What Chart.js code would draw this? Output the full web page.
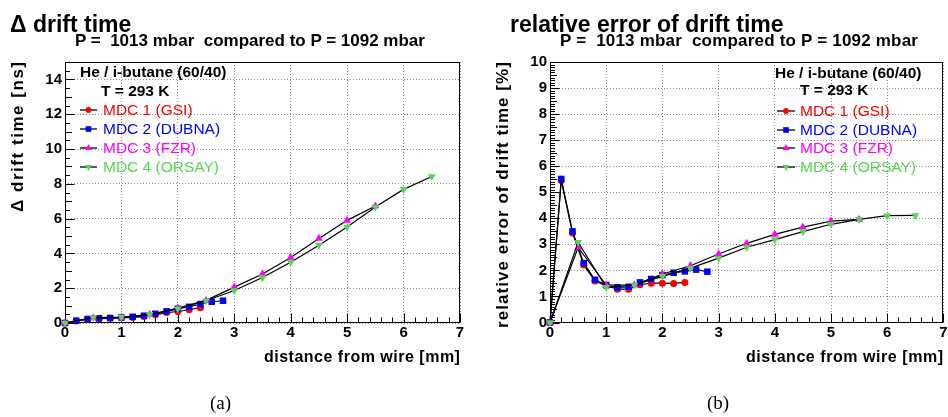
<!DOCTYPE html>
<html><head><meta charset="utf-8">
<script src="https://cdn.jsdelivr.net/npm/chart.js@4.4.1/dist/chart.umd.min.js"></script>
<style>
html,body{margin:0;padding:0;background:#fff;}
body{width:948px;height:417px;overflow:hidden;position:relative;font-family:"Liberation Sans",Arial,sans-serif;}
canvas{position:absolute;top:0;}
.t{position:absolute;white-space:pre;color:#000;line-height:1;font-weight:bold;}
.cap{position:absolute;white-space:pre;color:#000;line-height:1;font-family:"Liberation Serif","Times New Roman",serif;font-size:19px;}
</style></head><body>
<canvas id="c1" width="474" height="417" style="left:0"></canvas>
<canvas id="c2" width="474" height="417" style="left:474px"></canvas>
<div class="t" style="left:10px;top:12.5px;font-size:23px">Δ drift time</div>
<div class="t" style="left:510px;top:12.5px;font-size:23px">relative error of drift time</div>
<div class="t" style="left:75px;top:31.5px;font-size:17px">P =  1013 mbar  compared to P = 1092 mbar</div>
<div class="t" style="left:560px;top:31.5px;font-size:17px;letter-spacing:0.2px">P =  1013 mbar  compared to P = 1092 mbar</div>
<div class="cap" style="left:210px;top:393px">(a)</div>
<div class="cap" style="left:707px;top:393px">(b)</div>
<script>
// ---------- data ----------
const xFine = [0, 0.2, 0.4, 0.6, 0.8, 1.0, 1.2, 1.4, 1.6, 1.8, 2.0, 2.2, 2.4, 2.6, 2.8];
const xCoarse = [0, 0.5, 1.0, 1.5, 2.0, 2.5, 3.0, 3.5, 4.0, 4.5, 5.0, 5.5, 6.0, 6.5];
const seriesNames = ['MDC 1 (GSI)', 'MDC 2 (DUBNA)', 'MDC 3 (FZR)', 'MDC 4 (ORSAY)'];
// (a) delta drift time [ns]
const dtMdc1 = [0, 0.12, 0.21, 0.25, 0.27, 0.30, 0.32, 0.37, 0.47, 0.60, 0.66, 0.76, 0.88];
const dtMdc2 = [0, 0.13, 0.23, 0.27, 0.29, 0.32, 0.36, 0.42, 0.53, 0.67, 0.82, 0.93, 1.09, 1.22, 1.28];
const dtMdc3 = [0, 0.29, 0.32, 0.48, 0.86, 1.30, 2.06, 2.82, 3.77, 4.86, 5.90, 6.72];
const dtMdc4 = [0, 0.32, 0.34, 0.48, 0.82, 1.28, 1.87, 2.61, 3.49, 4.47, 5.52, 6.67, 7.68, 8.42];
// (b) relative error of drift time [%]
const reMdc1 = [0, 5.45, 3.44, 2.21, 1.59, 1.41, 1.28, 1.28, 1.45, 1.51, 1.51, 1.50, 1.54];
const reMdc2 = [0, 5.51, 3.50, 2.28, 1.64, 1.44, 1.35, 1.37, 1.54, 1.67, 1.82, 1.91, 1.96, 2.03, 1.95];
const reMdc3 = [0, 2.88, 1.44, 1.44, 1.86, 2.18, 2.63, 3.04, 3.38, 3.66, 3.89, 3.96];
const reMdc4 = [0, 3.08, 1.35, 1.44, 1.77, 2.09, 2.47, 2.89, 3.18, 3.49, 3.77, 3.96, 4.10, 4.11];
const xTicksA = [0, 1, 2, 3, 4, 5, 6, 7];
const yTicksA = [0, 2, 4, 6, 8, 10, 12, 14];
const yTicksB = [0, 1, 2, 3, 4, 5, 6, 7, 8, 9, 10];

// ---------- styles ----------
const FONT = '"Liberation Sans", Arial, sans-serif';
const colors = ['#ff0000', '#0000ff', '#ff00ff', '#59d454'];
const pStyles = ['circle', 'rect', 'triangle', 'triangle'];
const pRot = [0, 0, 0, 180];
const pRad = [3.5, 4.6, 4.6, 4.6];

function pts(xs, ys) { return ys.map((y, i) => ({ x: xs[i], y: y })); }

function makeDatasets(s1, s2, s3, s4) {
  const xs = [xFine, xFine, xCoarse, xCoarse];
  return [s1, s2, s3, s4].map((s, i) => ({
    label: seriesNames[i],
    data: pts(xs[i], s),
    showLine: true,
    clip: false,
    borderColor: '#000',
    borderWidth: 1.2,
    tension: 0,
    pointStyle: pStyles[i],
    pointRotation: pRot[i],
    pointRadius: pRad[i],
    pointHoverRadius: pRad[i],
    pointBackgroundColor: colors[i],
    pointBorderColor: colors[i],
    pointBorderWidth: 0,
    order: 4 - i
  }));
}

function spacedText(ctx, text, len) {
  ctx.letterSpacing = '0px';
  const w = ctx.measureText(text).width;
  const sp = Math.max(0, (len - w) / (text.length - 1));
  ctx.letterSpacing = sp.toFixed(2) + 'px';
  return sp;
}

const rootPlugin = {
  id: 'rootFrame',
  beforeDatasetsDraw(chart, args, o) {
    const ctx = chart.ctx, a = chart.chartArea, xs = chart.scales.x, ys = chart.scales.y;
    ctx.save();
    ctx.strokeStyle = '#000';
    ctx.lineWidth = 1;
    const L = Math.round(a.left) + 0.5, R = Math.round(a.right) - 0.5;
    const T = Math.round(a.top) + 0.5, B = Math.round(a.bottom) - 0.5;
    ctx.strokeRect(L, T, R - L, B - T);
    ctx.beginPath();
    for (let k = 0; k <= Math.round(o.xMax / o.xMinor); k++) {
      const v = k * o.xMinor;
      const px = Math.round(xs.getPixelForValue(v)) + 0.5;
      const maj = Math.abs(v / o.xMajor - Math.round(v / o.xMajor)) < 1e-6;
      const len = maj ? 9 : 5;
      ctx.moveTo(px, B); ctx.lineTo(px, B - len);
    }
    for (let k = 0; k <= Math.round(o.yMax / o.yMinor); k++) {
      const v = k * o.yMinor;
      const py = Math.round(ys.getPixelForValue(v)) + 0.5;
      const maj = Math.abs(v / o.yMajor - Math.round(v / o.yMajor)) < 1e-6;
      const med = Math.abs(v / o.yMed - Math.round(v / o.yMed)) < 1e-6;
      const len = maj ? 9 : (med ? 6.5 : 4.5);
      ctx.moveTo(L, py); ctx.lineTo(L + len, py);
    }
    ctx.stroke();
    ctx.restore();
  },
  afterDraw(chart, args, o) {
    const ctx = chart.ctx, g = o.legend, a = chart.chartArea;
    ctx.save();
    ctx.fillStyle = '#000';
    ctx.textBaseline = 'middle';
    ctx.textAlign = 'left';
    // x title (right end at plot right)
    ctx.font = 'bold 16px ' + FONT;
    spacedText(ctx, o.xTitle, o.xTitleLen);
    ctx.fillText(o.xTitle, Math.round(a.right) - o.xTitleLen, o.xTitleY);
    // y title (top end at plot top)
    ctx.font = 'bold 17px ' + FONT;
    spacedText(ctx, o.yTitle, o.yTitleLen);
    ctx.save();
    ctx.translate(o.yTitleX, Math.round(a.top) + o.yTitleLen);
    ctx.rotate(-Math.PI / 2);
    ctx.fillText(o.yTitle, 0, 0);
    ctx.restore();
    ctx.letterSpacing = '0px';
    // legend
    ctx.font = 'bold 15.5px ' + FONT;
    ctx.fillText('He / i-butane (60/40)', g.hx, g.hy);
    ctx.fillText('T = 293 K', g.tx, g.ty);
    chart.data.datasets.forEach((ds, i) => {
      const y = g.rows[i];
      ctx.strokeStyle = '#333';
      ctx.lineWidth = 1.6;
      ctx.beginPath(); ctx.moveTo(g.l0, y); ctx.lineTo(g.l1, y); ctx.stroke();
      ctx.fillStyle = colors[i];
      ctx.strokeStyle = colors[i];
      Chart.helpers.drawPoint(ctx, { pointStyle: pStyles[i], rotation: pRot[i], radius: pRad[i] - 0.6, borderWidth: 0 }, (g.l0 + g.l1) / 2, y);
      ctx.font = '15.5px ' + FONT;
      ctx.fillText(seriesNames[i], g.lx, y + 0.5);
    });
    ctx.restore();
  }
};

function makeChart(id, datasets, cfg) {
  return new Chart(document.getElementById(id), {
    type: 'scatter',
    data: { datasets: datasets },
    plugins: [rootPlugin],
    options: {
      responsive: false,
      animation: false,
      devicePixelRatio: 1,
      events: [],
      layout: { padding: cfg.pad },
      plugins: {
        legend: { display: false },
        tooltip: { enabled: false },
        rootFrame: cfg.frame
      },
      scales: {
        x: {
          type: 'linear', min: 0, max: 7,
          afterBuildTicks: s => { s.ticks = xTicksA.map(v => ({ value: v })); },
          afterFit: s => { s.height = 417 - cfg.bottom; s.paddingLeft = 0; s.paddingRight = 0; },
          ticks: { color: '#000', padding: 1, font: { family: FONT, size: 15, weight: 'bold' } },
          grid: { color: '#8a8a8a', lineWidth: 1, drawTicks: false },
          border: { display: false, dash: [1, 2] },
          title: { display: false }
        },
        y: {
          type: 'linear', min: 0, max: cfg.yMax,
          afterBuildTicks: s => { s.ticks = cfg.yTicks.map(v => ({ value: v })); },
          afterFit: s => { s.width = cfg.yWidth; },
          ticks: { color: '#000', padding: 3, font: { family: FONT, size: 15, weight: 'bold' } },
          grid: { color: '#8a8a8a', lineWidth: 1, drawTicks: false },
          border: { display: false, dash: [1, 2] },
          title: { display: false }
        }
      }
    }
  });
}

makeChart('c1', makeDatasets(dtMdc1, dtMdc2, dtMdc3, dtMdc4), {
  pad: { left: 0, right: 14, top: 62, bottom: 0 },
  bottom: 323, yMax: 15, yTicks: yTicksA, yWidth: 65,
  frame: {
    xMax: 7, xMinor: 0.2, xMajor: 1, yMax: 15, yMinor: 0.5, yMed: 1, yMajor: 2,
    xTitle: 'distance from wire [mm]', xTitleLen: 196, xTitleY: 358,
    yTitle: 'Δ drift time [ns]', yTitleLen: 150, yTitleX: 18.5,
    legend: { hx: 80, hy: 73, tx: 101, ty: 92, l0: 80, l1: 97, lx: 103, rows: [110, 129, 148, 167] }
  }
});

makeChart('c2', makeDatasets(reMdc1, reMdc2, reMdc3, reMdc4), {
  pad: { left: 0, right: 2, top: 62, bottom: 0 },
  bottom: 322.5, yMax: 10, yTicks: yTicksB, yWidth: 76,
  frame: {
    xMax: 7, xMinor: 0.2, xMajor: 1, yMax: 10, yMinor: 0.1, yMed: 0.5, yMajor: 1,
    xTitle: 'distance from wire [mm]', xTitleLen: 197, xTitleY: 358,
    yTitle: 'relative error of drift time [%]', yTitleLen: 266, yTitleX: 29,
    legend: { hx: 301, hy: 74, tx: 326, ty: 91, l0: 303, l1: 321, lx: 326, rows: [111, 130, 148, 167] }
  }
});
</script>
</body></html>
